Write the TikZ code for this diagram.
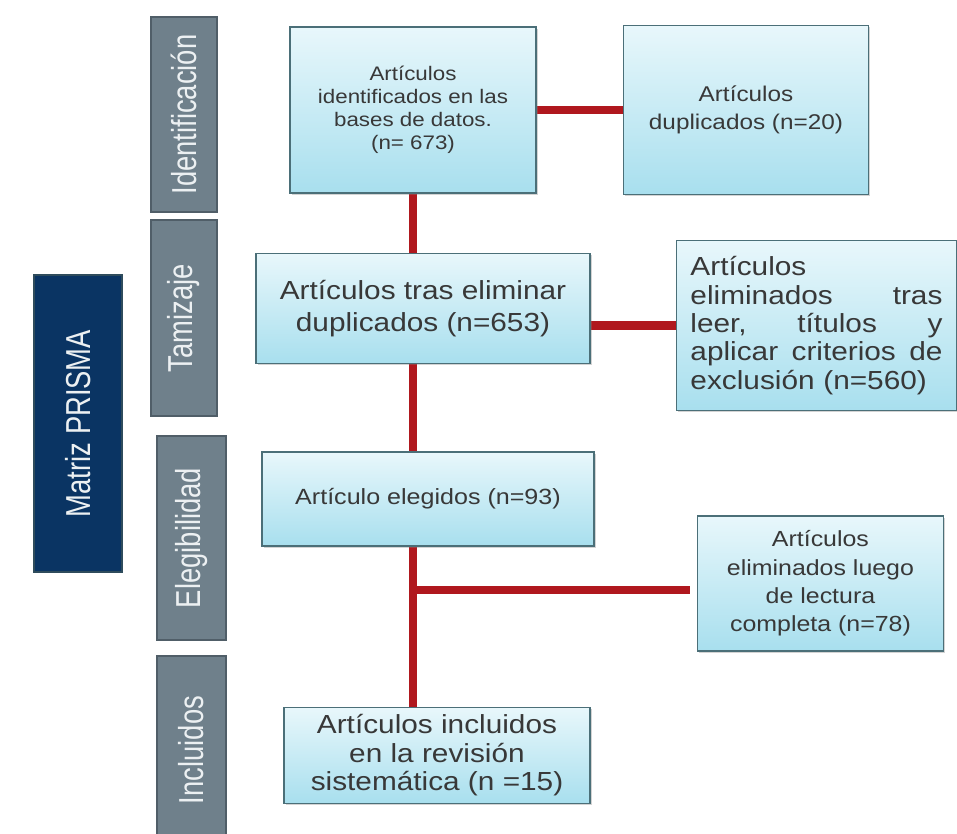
\documentclass[tikz,border=0pt]{standalone}
\usepackage{fontspec}
\setmainfont{Liberation Sans}[FakeStretch=1.14]
\newfontfamily\phasefont{Liberation Sans}[FakeStretch=0.79]
\usetikzlibrary{positioning, shadows, backgrounds, calc}
\definecolor{boxtop}{HTML}{E8F7FB}
\definecolor{boxbot}{HTML}{A8DFEE}
\definecolor{boxline}{HTML}{4B6F78}
\definecolor{textgray}{HTML}{383838}
\definecolor{phasefill}{HTML}{6F808B}
\definecolor{phaseline}{HTML}{505E68}
\definecolor{phasetext}{HTML}{ECF0F2}
\definecolor{navy}{HTML}{0A3463}
\definecolor{navyline}{HTML}{2F4C5C}
\definecolor{linkred}{HTML}{B0181E}
\newcommand{\jsp}{\hskip 0pt plus 1fill\relax}
\tikzset{
  box/.style={rectangle, draw=boxline, line width=1.1pt,
    top color=boxtop, bottom color=boxbot, text=textgray,
    align=center, inner sep=0pt,
    drop shadow={shadow xshift=1.5pt, shadow yshift=-1.5pt, opacity=0.35}},
  phase/.style={rectangle, rotate=90, draw=phaseline, fill=phasefill,
    line width=1.5pt, minimum height=49.5pt, text=phasetext,
    font=\phasefont\fontsize{26}{30}\selectfont},
  link/.style={draw=linkred, line width=6.5pt},
}

\begin{document}
\begin{tikzpicture}[x=0.75pt, y=-0.75pt]
\useasboundingbox (0,0) rectangle (957,834);

\node (ident) [box, minimum width=184.5pt, minimum height=124.5pt,
               font=\fontsize{14.7}{17.25}\selectfont] at (413,110)
  {Artículos\\identificados en las\\bases de datos.\\(n= 673)};

\node (dupl) [box, right=64.5pt of ident, minimum width=183.75pt, minimum height=126.75pt,
              font=\fontsize{16}{21}\selectfont]
  {Artículos\\duplicados (n=20)};

\node (screen) [box, below=44.25pt of ident, xshift=7.5pt,
                minimum width=250.5pt, minimum height=82.5pt,
                font=\fontsize{19.6}{23.8}\selectfont]
  {Artículos tras eliminar\\duplicados (n=653)};

\node (excl) [box, right=63.75pt of screen, yshift=-12.75pt,
              minimum height=127.5pt, text width=189pt, inner xsep=10.5pt,
              align=left, font=\fontsize{19.6}{21.25}\selectfont]
  {Artículos\\
   eliminados\jsp tras\\
   leer,\jsp títulos\jsp y\\
   aplicar\jsp criterios\jsp de\\
   exclusión (n=560)};

\node (chosen) [box, below=65.25pt of screen, xshift=3.75pt,
                minimum width=249pt, minimum height=70.5pt,
                font=\fontsize{16.5}{20}\selectfont]
  {Artículo elegidos (n=93)};

\node (fulltext) [box, right=76.5pt of chosen, yshift=-63.4pt,
                  minimum width=184.5pt, minimum height=101.25pt,
                  font=\fontsize{16.4}{21.25}\selectfont]
  {Artículos\\eliminados luego\\de lectura\\completa (n=78)};

\node (incl) [box, below=120pt of chosen, xshift=6.75pt,
              minimum width=229.5pt, minimum height=72pt,
              font=\fontsize{19.6}{21.25}\selectfont]
  {Artículos incluidos\\en la revisión\\sistemática (n =15)};

% phases on the left
\node (idphase) [phase, minimum width=146.25pt] at (184,114.5) {Identificación};
\node (scphase) [phase, minimum width=147pt] at (184,318) {Tamizaje};
\node (elphase) [phase, minimum width=153pt, minimum height=51.75pt] at (191.5,538) {Elegibilidad};
\node (inphase) [phase, minimum width=141pt, minimum height=51.75pt] at (191.5,750) {Incluidos};
\node (prisma) [phase, fill=navy, draw=navyline, minimum width=222.75pt,
                minimum height=66pt] at (78,423.5) {Matriz PRISMA};

\begin{scope}[on background layer]
\draw[link] (ident.south) -- (ident.south |- screen.north);
\draw[link] (ident.south |- screen.south) -- (ident.south |- chosen.north);
\draw[link] (ident.south |- chosen.south) -- (ident.south |- incl.north);
\draw[link] (ident.east) -- (dupl.west);
\draw[link] (excl.west) -- (excl.west -| screen.east);
\coordinate (split) at (ident.south |- 0,590);
\draw[link, shorten >=5pt] (split) -- (split -| fulltext.west);
\end{scope}

\end{tikzpicture}
\end{document}
